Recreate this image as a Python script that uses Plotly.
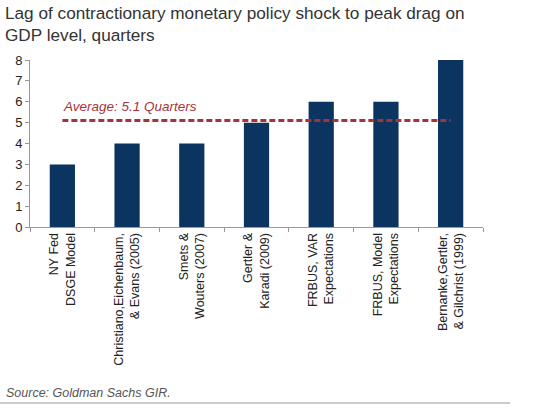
import plotly.graph_objects as go

# lag (quarters) from contractionary monetary policy shock to peak drag on GDP
models = [
    "NY Fed<br>DSGE Model",
    "Christiano,Eichenbaum,<br>& Evans (2005)",
    "Smets &<br>Wouters (2007)",
    "Gertler &<br>Karadi (2009)",
    "FRBUS, VAR<br>Expectations",
    "FRBUS, Model<br>Expectations",
    "Bernanke,Gertler,<br>& Gilchrist (1999)",
]
lag_quarters = [3, 4, 4, 5, 6, 6, 8]
average = 5.1
y_ticks = [0, 1, 2, 3, 4, 5, 6, 7, 8]

navy = "#0b3560"
red = "#a8323a"

W, H = 536, 410
L, R, T, B = 30, 53, 60, 183
plot_w = W - L - R
plot_h = H - T - B


def px(x):
    return (x - L) / plot_w


def py(y):
    return (H - B - y) / plot_h


fig = go.Figure()
fig.add_trace(go.Bar(
    x=models, y=lag_quarters,
    marker=dict(color=navy, line=dict(width=0)),
    width=0.39,
    showlegend=False,
))
fig.add_trace(go.Scatter(
    x=[models[0], models[-1]], y=[average, average],
    mode="lines",
    line=dict(color=red, width=3, dash="6px,3px"),
    showlegend=False,
))

fig.add_annotation(
    x=models[0], y=5.75, xref="x", yref="y",
    text=f"<i>Average: {average} Quarters</i>",
    showarrow=False, xanchor="left", yanchor="middle", xshift=-1,
    font=dict(size=13.5, color=red, family="Liberation Sans"),
)
fig.add_annotation(
    x=px(4), y=py(393), xref="paper", yref="paper",
    text="<i>Source: Goldman Sachs GIR.</i>",
    showarrow=False, xanchor="left", yanchor="middle",
    font=dict(size=12.5, color="#555555", family="Liberation Sans"),
)
fig.add_annotation(
    x=px(3), y=py(1), xref="paper", yref="paper",
    text="Lag of contractionary monetary policy shock to peak drag on<br>GDP level, quarters",
    showarrow=False, xanchor="left", yanchor="top", align="left",
    font=dict(size=17.2, color="#333333", family="Liberation Sans"),
)

fig.update_layout(
    width=W, height=H,
    margin=dict(l=L, r=R, t=T, b=B, autoexpand=False),
    paper_bgcolor="white", plot_bgcolor="white",
    font=dict(family="Liberation Sans", color="#222222"),
    shapes=[dict(
        type="line", xref="paper", yref="paper",
        x0=px(0), x1=px(510), y0=py(403), y1=py(403),
        line=dict(color="#999999", width=1),
    )],
)

fig.update_xaxes(
    tickangle=-90, tickson="boundaries", ticks="outside", ticklen=4,
    tickcolor="#999999", showline=True, linecolor="#999999", linewidth=1,
    tickfont=dict(size=12.5, color="#222222"),
    showgrid=False, automargin=False,
)
fig.update_yaxes(
    range=[0, 8], tickvals=y_ticks, ticks="outside", ticklen=4,
    tickcolor="#999999", showline=True, linecolor="#999999", linewidth=1,
    tickfont=dict(size=13, color="#222222"),
    showgrid=False, zeroline=False, automargin=False,
)

fig.write_html(
    "out.html",
    config={"displayModeBar": False},
    post_script="document.body.style.margin='0';",
)
